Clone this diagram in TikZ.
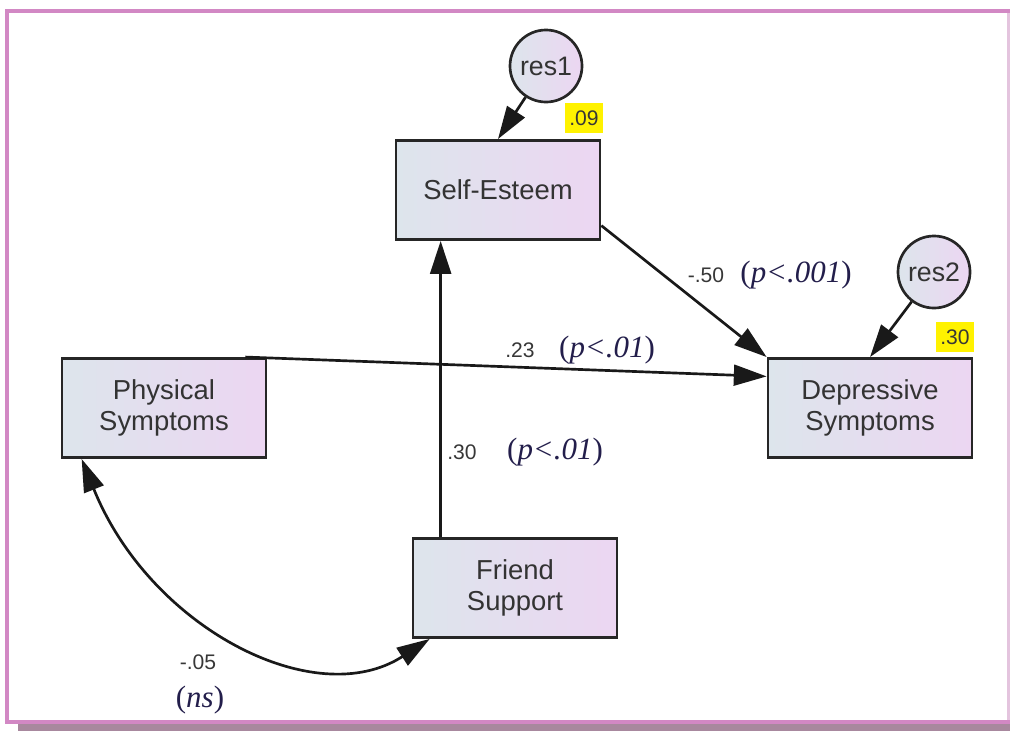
\documentclass[tikz,border=0pt]{standalone}
\usepackage{fontspec}
\setmainfont{Liberation Serif}
\setsansfont{Liberation Sans}
\usetikzlibrary{arrows.meta}
\definecolor{framepink}{RGB}{210,136,196}
\definecolor{framedark}{RGB}{168,136,158}
\definecolor{framelight}{RGB}{228,196,222}
\definecolor{boxleft}{RGB}{221,229,236}
\definecolor{boxright}{RGB}{236,214,242}
\definecolor{pcol}{RGB}{35,30,75}
\definecolor{numcol}{RGB}{55,55,55}
\begin{document}
\begin{tikzpicture}[x=0.025cm,y=-0.025cm,
  obs/.style={draw=black!85,line width=1.9pt,left color=boxleft,right color=boxright,
    minimum width=5.1cm,minimum height=2.48cm,align=center,text=black!80,
    font=\sffamily\fontsize{19.5}{22}\selectfont},
  err/.style={circle,draw=black!85,line width=1.9pt,left color=boxleft,right color=boxright,
    minimum size=1.8cm,inner sep=0pt,text=black!80,font=\sffamily\fontsize{19}{19}\selectfont},
  effect/.style={line width=1.9pt,draw=black!90,-{Triangle[length=0.82cm,width=0.52cm]}},
  corr/.style={line width=1.9pt,draw=black!90,{Triangle[length=0.82cm,width=0.52cm]}-{Triangle[length=0.82cm,width=0.52cm]}},
  coef/.style={text=numcol,inner sep=0pt,font=\sffamily\fontsize{15}{15}\selectfont},
  pv/.style={text=pcol,inner sep=0pt,font=\fontsize{22}{22}\selectfont},
  rsq/.style={fill=yellow,text=numcol,inner sep=0pt,minimum width=0.95cm,minimum height=0.75cm,
    font=\sffamily\fontsize{15}{15}\selectfont}]
\useasboundingbox (0,0) rectangle (1010,731);
\fill[framepink] (4.5,8.5) rectangle (1010,12.5);
\fill[framepink] (4.5,8.5) rectangle (8.5,723);
\fill[framepink] (4.5,720) rectangle (1010,723.5);
\fill[framedark] (18,723.5) rectangle (1010,731);
\fill[framelight] (1007,12.5) rectangle (1010,720);

\node[obs] (se) at (498,190) {Self-Esteem};
\node[obs] (ds) at (870,408) {Depressive\\Symptoms};
\node[obs] (ps) at (164,408) {Physical\\Symptoms};
\node[obs] (fs) at (515,588) {Friend\\Support};
\node[err] (res1) at (546,66) {res1};
\node[err] (res2) at (934,272) {res2};
\node[rsq] (r2se) at (584,118) {.09};
\node[rsq] (r2ds) at (955,337) {.30};

\draw[effect] (res1) -- (se.north);
\draw[effect] (res2) -- (ds.north);
\draw[effect] (se.-19) -- (ds.north west);
\draw[effect] ([xshift=-0.55cm]ps.north east) -- (ds.163);
\coordinate (fsup) at ([xshift=0.725cm]fs.north west);
\draw[effect] (fsup) -- (fsup |- se.south);
\draw[corr] ([xshift=0.525cm]ps.south west) .. controls (150,628) and (315,713) .. ([xshift=0.45cm]fs.south west);

\node[coef] (b1) at (706,275) {-.50};
\node[pv] (p1) at (796,275) {(\textit{p<.001})};
\node[coef] (b2) at (520,350) {.23};
\node[pv] (p2) at (607,350) {(\textit{p<.01})};
\node[coef] (b3) at (462,452) {.30};
\node[pv] (p3) at (555,452) {(\textit{p<.01})};
\node[coef] (b4) at (198,662) {-.05};
\node[pv] (p4) at (200,700) {(\textit{ns})};
\end{tikzpicture}
\end{document}
